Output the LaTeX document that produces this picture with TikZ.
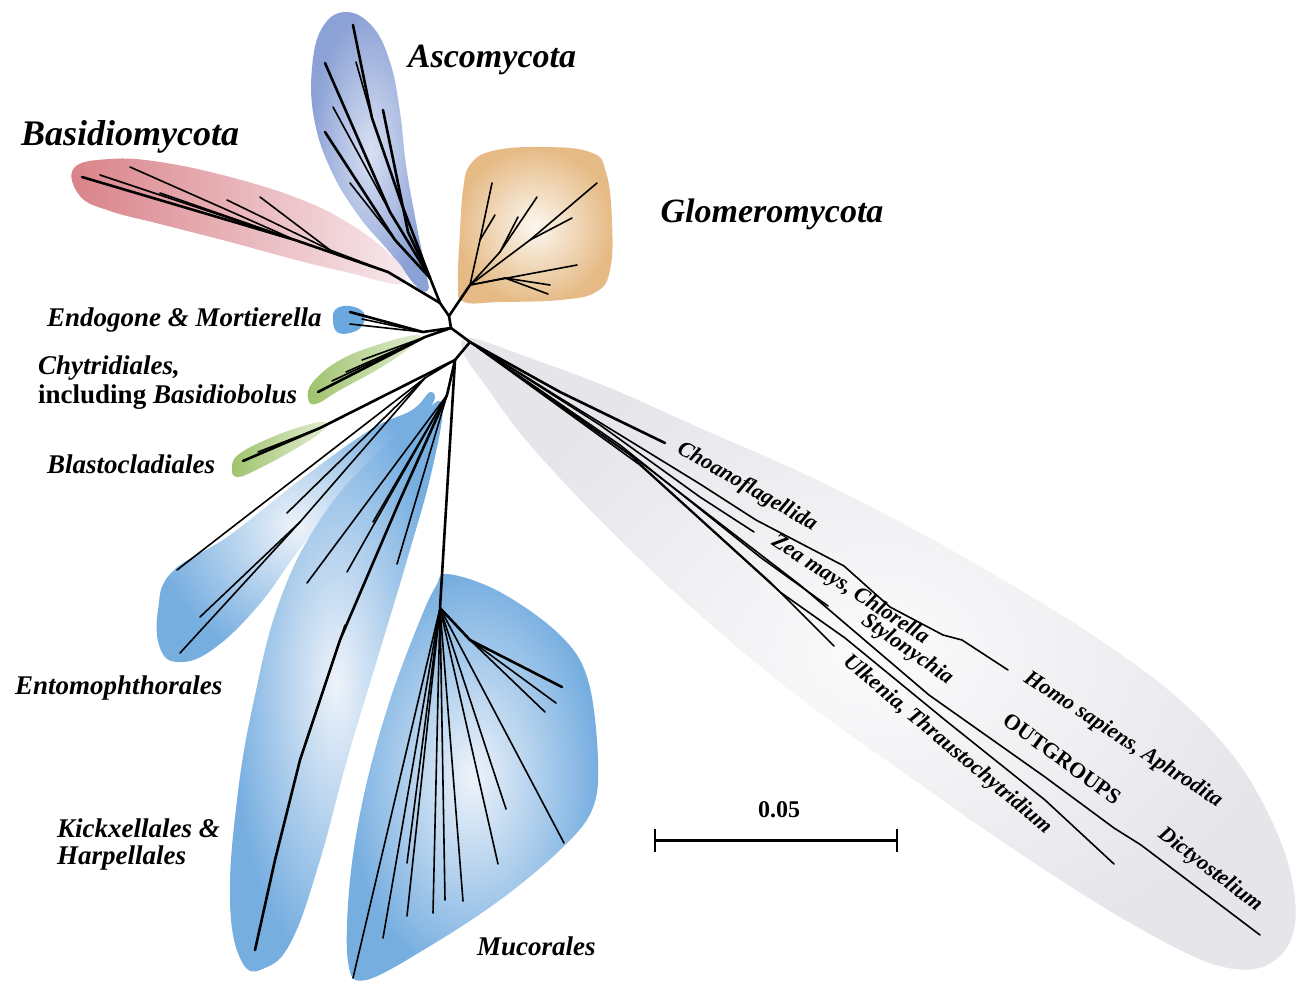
\documentclass[tikz,border=0pt]{standalone}
\usepackage{fontspec}
\setmainfont{Liberation Serif}
\definecolor{ogIn}{HTML}{FBFBFC}
\definecolor{ogOut}{HTML}{E5E5EA}
\definecolor{asIn}{HTML}{D8E0F2}
\definecolor{asOut}{HTML}{8CA2D6}
\definecolor{baL}{HTML}{D98288}
\definecolor{baR}{HTML}{F7E8EC}
\definecolor{glIn}{HTML}{FCF7F0}
\definecolor{glOut}{HTML}{E5BA84}
\definecolor{blIn}{HTML}{EEF3FA}
\definecolor{blOut}{HTML}{76AEE0}
\definecolor{enC}{HTML}{6CA8E0}
\definecolor{grL}{HTML}{9EC36C}
\definecolor{grR}{HTML}{E2EDD2}
\tikzset{
 br/.style={line width=2.6pt, line cap=round, line join=round},
 tw/.style={line width=1.6pt, line cap=round, line join=round},
 lab/.style={font=\fontsize{27}{30}\selectfont\bfseries\itshape, inner sep=0pt},
 biglab/.style={font=\fontsize{34}{38}\selectfont\bfseries\itshape, inner sep=0pt},
 olab/.style={font=\fontsize{22}{24}\selectfont\bfseries\itshape, inner sep=0pt},
 oupright/.style={font=\fontsize{22}{24}\selectfont\bfseries\upshape, inner sep=0pt},
}
\begin{document}
\begin{tikzpicture}[x=1pt,y=-1pt]
\useasboundingbox (0,0) rectangle (1297,985);
% ---------------- shaded clade areas ----------------
\shade[inner color=ogIn, outer color=ogOut] plot[smooth cycle, tension=0.6] coordinates {
 (470,338) (530,358) (610,388) (700,428) (800,472) (900,522) (1000,578) (1100,640) (1180,700) (1240,765) (1280,840) (1295,900) (1290,942) (1265,966) (1228,968) (1180,950) (1100,905) (1000,840) (900,770) (800,698) (700,615) (610,530) (530,445) (485,385) (463,352)};
\shade[inner color=asIn, outer color=asOut] plot[smooth cycle, tension=0.7] coordinates {
 (345,12) (372,26) (390,62) (400,112) (406,165) (416,222) (426,272) (428,290) (416,286) (392,255) (358,215) (330,168) (314,118) (312,68) (322,28)};
\shade[left color=baL, right color=baR] plot[smooth cycle, tension=0.7] coordinates {
 (74,168) (110,159) (160,162) (230,177) (300,199) (350,224) (390,254) (406,276) (396,284) (350,273) (300,261) (230,242) (160,224) (110,211) (80,196)};
\shade[inner color=glIn, outer color=glOut] plot[smooth cycle, tension=0.7] coordinates {
 (470,165) (492,151) (540,147) (590,152) (606,172) (612,222) (610,270) (596,292) (560,300) (500,302) (464,302) (458,285) (460,232) (463,190)};
\fill[enC] plot[smooth cycle, tension=0.7] coordinates {
 (333,320) (336,309) (350,306) (364,313) (362,326) (350,333) (337,332)};
\shade[left color=grL, right color=grR] plot[smooth cycle, tension=0.7] coordinates {
 (308,398) (313,382) (340,360) (380,344) (418,335) (412,346) (380,368) (340,390) (316,404)};
\shade[left color=grL, right color=grR] plot[smooth cycle, tension=0.7] coordinates {
 (232,470) (238,455) (270,438) (310,424) (327,423) (320,433) (290,452) (252,472) (237,477)};
\shade[inner color=blIn, outer color=blOut] plot[smooth cycle, tension=0.7] coordinates {
 (430,392) (412,410) (370,430) (300,480) (230,535) (172,572) (158,610) (160,648) (178,662) (212,650) (258,606) (302,546) (350,490) (400,440) (432,405)};
\shade[inner color=blIn, outer color=blOut] plot[smooth cycle, tension=0.7] coordinates {
 (442,405) (432,470) (407,560) (377,660) (347,760) (320,860) (292,940) (265,968) (242,962) (230,902) (237,800) (254,700) (280,600) (320,520) (372,458) (420,416)};
\shade[inner color=blIn, outer color=blOut] plot[smooth cycle, tension=0.6] coordinates {
 (448,574) (500,592) (560,635) (588,680) (598,760) (592,810) (560,850) (500,900) (430,946) (366,980) (348,962) (350,880) (365,790) (390,700) (420,620) (436,586)};
% ---------------- tree: hubs ----------------
\coordinate (hA) at (440,303);
\coordinate (hG) at (449,316);
\coordinate (hE) at (451,328);
\coordinate (hO) at (470,342);
\coordinate (hL) at (455,360);
\draw[br] (hA) -- (hG) -- (hE) -- (hO) -- (hL);
% Ascomycota
\coordinate (as) at (430,278);
\coordinate (ai1) at (402,205); \coordinate (ai2) at (372,118);
\coordinate (a1) at (353,25); \coordinate (a2) at (356,62);
\coordinate (ai3) at (390,212); \coordinate (a3) at (325,63); \coordinate (a4) at (333,107);
\coordinate (ai4) at (395,240); \coordinate (a6) at (325,132); \coordinate (a7) at (350,183);
\coordinate (ai5) at (408,232); \coordinate (a5) at (383,110);
\draw[br] (hA) -- (as);
\draw[br] (as) -- (ai1) -- (ai2) -- (a1);
\draw[tw] (ai2) -- (a2);
\draw[br] (as) -- (ai3) -- (a3);
\draw[tw] (ai3) -- (a4);
\draw[br] (as) -- (ai4) -- (a6);
\draw[tw] (ai4) -- (a7);
\draw[br] (as) -- (ai5) -- (a5);
% Basidiomycota
\coordinate (bs) at (388,272);
\coordinate (bi1) at (295,240); \coordinate (bi2) at (330,250);
\coordinate (b1) at (82,177); \coordinate (b2) at (100,175); \coordinate (b3) at (130,167);
\coordinate (b4) at (207,210); \coordinate (b5) at (227,200); \coordinate (b6) at (260,197); \coordinate (b7) at (160,193);
\draw[br] (hA) -- (bs);
\draw[br] (bs) -- (bi1) -- (b1);
\draw[tw] (bi1) -- (b2);
\draw[tw] (bi1) -- (b3);
\draw[tw] (bs) -- (bi2) -- (b5);
\draw[tw] (bi2) -- (b6);
\draw[tw] (bs) -- (b4);
\draw[tw] (bi1) -- (b7);
% Glomeromycota
\coordinate (gS) at (470,285);
\coordinate (gi0) at (480,240); \coordinate (g1) at (492,183); \coordinate (g2) at (495,215);
\coordinate (gi) at (500,252); \coordinate (g3) at (537,197); \coordinate (g4) at (518,217);
\coordinate (gj) at (530,240); \coordinate (g5) at (597,183); \coordinate (g6) at (572,218);
\coordinate (g7) at (577,265);
\coordinate (gk) at (505,278); \coordinate (g8) at (550,285); \coordinate (g9) at (548,294);
\draw[br] (hG) -- (gS);
\draw[tw] (gS) -- (gi0) -- (g1);
\draw[tw] (gi0) -- (g2);
\draw[tw] (gS) -- (gi) -- (g3);
\draw[tw] (gi) -- (g4);
\draw[tw] (gS) -- (gj) -- (g5);
\draw[tw] (gj) -- (g6);
\draw[tw] (gS) -- (g7);
\draw[tw] (gS) -- (gk) -- (g8);
\draw[tw] (gk) -- (g9);
% Endogone & Mortierella
\coordinate (en) at (423,332);
\coordinate (n1) at (350,312); \coordinate (n2) at (350,324); \coordinate (n3) at (362,319);
\draw[br] (hE) -- (en) -- (n1);
\draw[tw] (en) -- (n2);
\draw[tw] (en) -- (n3);
% Chytridiales
\coordinate (ch) at (425,337);
\coordinate (c1) at (318,392); \coordinate (c2) at (332,381); \coordinate (c3) at (346,372); \coordinate (c4) at (362,360);
\draw[br] (hE) -- (ch) -- (c1);
\draw[tw] (ch) -- (c2);
\draw[tw] (ch) -- (c3);
\draw[tw] (ch) -- (c4);
% Blastocladiales
\coordinate (bl) at (320,428);
\coordinate (l1) at (243,461); \coordinate (l2) at (258,452); \coordinate (l3) at (270,448);
\draw[br] (hL) -- (bl) -- (l1);
\draw[tw] (bl) -- (l2);
\draw[tw] (bl) -- (l3);
% Entomophthorales
\coordinate (ei) at (425,378);
\coordinate (ej) at (300,522);
\coordinate (e1) at (177,570); \coordinate (e2) at (200,617); \coordinate (e3) at (180,653); \coordinate (e4) at (287,513);
\draw[tw] (hL) -- (ei) -- (e1);
\draw[tw] (ei) -- (e4);
\draw[tw] (ei) -- (ej) -- (e2);
\draw[tw] (ej) -- (e3);
% Kickxellales & Harpellales
\coordinate (hK) at (447,395);
\coordinate (k1a) at (400,500); \coordinate (k1b) at (340,640); \coordinate (k1c) at (300,760); \coordinate (k1d) at (275,860);
\coordinate (k1) at (255,950);
\coordinate (kx1) at (345,625); \coordinate (kx2) at (305,745);
\coordinate (k2) at (307,583); \coordinate (k3) at (347,572); \coordinate (k4) at (397,564); \coordinate (k5) at (373,522);
\draw[br] (hL) -- (hK);
\draw[br] (hK) -- (k1a) -- (k1b) -- (k1c) -- (k1d) -- (k1);
\draw[tw] (kx1) -- (kx2);
\draw[tw] (hK) -- (k2);
\draw[tw] (hK) -- (k3);
\draw[tw] (hK) -- (k4);
\draw[tw] (hK) -- (k5);
% Mucorales
\coordinate (hM) at (440,608);
\coordinate (m1) at (353,978); \coordinate (m2) at (383,938); \coordinate (m3) at (407,916);
\coordinate (m4) at (433,913); \coordinate (m5) at (445,900); \coordinate (m6) at (463,901);
\coordinate (m7) at (407,863); \coordinate (m8) at (498,864); \coordinate (m9) at (506,809);
\coordinate (m10) at (564,843);
\coordinate (mi) at (470,640); \coordinate (m11) at (562,687); \coordinate (m12) at (556,703); \coordinate (m13) at (545,712);
\draw[br] (hL) -- (hM);
\foreach \e in {m1,m2,m3,m4,m5,m6,m7,m8,m9,m10} { \draw[tw] (hM) -- (\e); }
\draw[br] (hM) -- (mi) -- (m11);
\draw[tw] (mi) -- (m12);
\draw[tw] (mi) -- (m13);
% Outgroups
\coordinate (o1a) at (560,392); \coordinate (o1) at (665,443);
\coordinate (o2a) at (600,425); \coordinate (o2b) at (700,497); \coordinate (o2) at (754,532);
\coordinate (o3a) at (560,398); \coordinate (o3b) at (700,484); \coordinate (o3c) at (756,520); \coordinate (o3d) at (844,566);
\coordinate (o3e) at (890,607); \coordinate (o3f) at (943,635); \coordinate (o3g) at (962,640); \coordinate (o3) at (1008,670);
\coordinate (o4a) at (620,445); \coordinate (o4b) at (760,557); \coordinate (o4) at (828,606);
\coordinate (o5a) at (630,455); \coordinate (o5b) at (770,582); \coordinate (o5) at (834,646);
\coordinate (o6a) at (640,465); \coordinate (o6b) at (780,592); \coordinate (o6c) at (845,638); \coordinate (o6d) at (945,720); \coordinate (o6e) at (1045,800); \coordinate (o6) at (1114,864);
\coordinate (o7a) at (635,458); \coordinate (o7b) at (800,585); \coordinate (o7c) at (929,695); \coordinate (o7d) at (1045,777); \coordinate (o7e) at (1114,828); \coordinate (o7f) at (1141,845); \coordinate (o7) at (1260,935);
\draw[br] (hO) -- (o1a) -- (o1);
\draw[tw] (hO) -- (o2a) -- (o2b) -- (o2);
\draw[tw] (hO) -- (o3a) -- (o3b) -- (o3c) -- (o3d) -- (o3e) -- (o3f) -- (o3g) -- (o3);
\draw[tw] (hO) -- (o4a) -- (o4b) -- (o4);
\draw[tw] (hO) -- (o5a) -- (o5b) -- (o5);
\draw[tw] (hO) -- (o6a) -- (o6b) -- (o6c) -- (o6d) -- (o6e) -- (o6);
\draw[tw] (hO) -- (o7a) -- (o7b) -- (o7c) -- (o7d) -- (o7e) -- (o7f) -- (o7);
% ---------------- labels ----------------
\node[biglab] (tAsco) at (492,60) {Ascomycota};
\node[biglab, font=\fontsize{36}{40}\selectfont\bfseries\itshape] (tBasi) at (130,137) {Basidiomycota};
\node[biglab] (tGlom) at (772,214) {Glomeromycota};
\node[lab, anchor=west] (tEndo) at (47,320) {Endogone \& Mortierella};
\node[lab, anchor=west] (tChy1) at (38,368) {Chytridiales,};
\node[lab, anchor=west] (tChy2) at (38,397) {\upshape including \itshape Basidiobolus};
\node[lab, anchor=west] (tBlas) at (47,464) {Blastocladiales};
\node[lab, anchor=west] (tEnto) at (15,688) {Entomophthorales};
\node[lab, anchor=west] (tKic1) at (57,828) {Kickxellales \&};
\node[lab, anchor=west] (tKic2) at (57,858) {Harpellales};
\node[lab, anchor=west] (tMuco) at (477,946) {Mucorales};
\node[olab, rotate=-30] (tCho) at (747,487) {Choanoflagellida};
\node[olab, rotate=-33] (tZea) at (850,590) {Zea mays, Chlorella};
\node[olab, rotate=-35] (tSty) at (907,650) {Stylonychia};
\node[olab, rotate=-40] (tUlk) at (947,745) {Ulkenia, Thraustochytridium};
\node[olab, rotate=-33] (tHom) at (1123,740) {Homo sapiens, Aphrodita};
\node[oupright, rotate=-36] (tOut) at (1062,759) {OUTGROUPS};
\node[olab, rotate=-37] (tDic) at (1210,870) {Dictyostelium};
% ---------------- scale bar ----------------
\coordinate (sb1) at (655,840); \coordinate (sb2) at (897,840);
\coordinate (sb1t) at (655,829); \coordinate (sb1b) at (655,852);
\coordinate (sb2t) at (897,829); \coordinate (sb2b) at (897,852);
\draw[line width=3pt] (sb1) -- (sb2);
\draw[line width=2.5pt] (sb1t) -- (sb1b);
\draw[line width=2.5pt] (sb2t) -- (sb2b);
\node[font=\fontsize{24}{26}\selectfont\bfseries, inner sep=0pt] (tsc) at (779,810) {0.05};
\end{tikzpicture}
\end{document}
